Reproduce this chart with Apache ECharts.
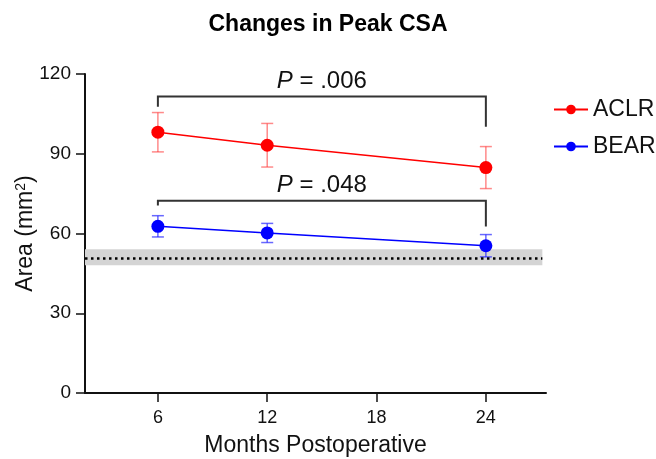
<!DOCTYPE html>
<html>
<head>
<meta charset="utf-8">
<script src="https://cdn.jsdelivr.net/npm/echarts@6/dist/echarts.min.js"></script>
<style>
  html, body { margin: 0; padding: 0; background: #fff; }
  #chart { width: 656px; height: 459px; }
</style>
</head>
<body>
<div id="chart"></div>
<script>
// data
const months = [6, 12, 24];
const xTicks = [6, 12, 18, 24];
const aclrMean = [98.1, 93.2, 84.8];
const aclrErr = [7.4, 8.2, 7.9];
const bearMean = [62.7, 60.2, 55.4];
const bearErr = [4.0, 3.6, 4.2];

// reference band (healthy) and its mean
const bandLow = 48.1;
const bandHigh = 54.1;
const bandMean = 50.7;

// significance brackets: [xLeft, xRight, yTop, yLeftEnd, yRightEnd]
const brackets = [
  [6, 24, 111.5, 107.7, 100.2],
  [6, 24, 72.3, 70.5, 62.6]
];
const pLabels = ['.006', '.048'];

const RED = '#ff0000';
const BLUE = '#0000ff';
const FONT = 'Liberation Sans, Arial, Helvetica, sans-serif';

const chart = echarts.init(document.getElementById('chart'));

function pairs(xs, ys) {
  return xs.map((x, i) => [x, ys[i]]);
}

function errorBarSeries(name, means, errs, color) {
  return {
    type: 'custom',
    name: name + ' err',
    z: 3,
    silent: true,
    data: months.map((m, i) => [m, means[i] - errs[i], means[i] + errs[i]]),
    renderItem(params, api) {
      const lo = api.coord([api.value(0), api.value(1)]);
      const hi = api.coord([api.value(0), api.value(2)]);
      const hw = 6;
      const style = { stroke: color, lineWidth: 1.5, fill: null };
      return {
        type: 'group',
        children: [
          { type: 'line', shape: { x1: lo[0], y1: lo[1], x2: hi[0], y2: hi[1] }, style },
          { type: 'line', shape: { x1: lo[0] - hw, y1: lo[1], x2: lo[0] + hw, y2: lo[1] }, style },
          { type: 'line', shape: { x1: hi[0] - hw, y1: hi[1], x2: hi[0] + hw, y2: hi[1] }, style }
        ]
      };
    }
  };
}

const option = {
  animation: false,
  backgroundColor: '#fff',
  textStyle: { fontFamily: FONT },
  title: {
    text: 'Changes in Peak CSA',
    left: 'center',
    top: 8,
    textStyle: { fontFamily: FONT, fontSize: 23, fontWeight: 'bold', color: '#000' }
  },
  legend: {
    orient: 'vertical',
    left: 548,
    top: 93,
    itemWidth: 34,
    itemHeight: 12,
    itemGap: 14,
    data: ['ACLR', 'BEAR'],
    textStyle: { fontFamily: FONT, fontSize: 23, color: '#111' }
  },
  grid: { left: 85, right: 110, top: 74, bottom: 66, outerBoundsMode: 'none' },
  xAxis: {
    type: 'value',
    min: 2,
    max: 27.3,
    name: 'Months Postoperative',
    nameLocation: 'middle',
    nameGap: 41,
    nameTextStyle: { fontFamily: FONT, fontSize: 23, color: '#111' },
    splitLine: { show: false },
    axisLine: { show: true, lineStyle: { color: '#111', width: 2 } },
    axisTick: { show: true, length: 9, customValues: xTicks, lineStyle: { color: '#111', width: 1.5 } },
    axisLabel: { customValues: xTicks, fontSize: 18, color: '#111', margin: 16, fontFamily: FONT }
  },
  yAxis: {
    type: 'value',
    min: 0,
    max: 120,
    interval: 30,
    name: 'Area (mm{sup|2})',
    nameLocation: 'middle',
    nameMoveOverlap: false,
    nameGap: 48,
    nameTextStyle: {
      fontFamily: FONT, fontSize: 23, color: '#111',
      rich: { sup: { fontSize: 14, verticalAlign: 'top', lineHeight: 14, color: '#111', fontFamily: FONT } }
    },
    splitLine: { show: false },
    axisLine: { show: true, lineStyle: { color: '#111', width: 2 } },
    axisTick: { show: true, length: 9, lineStyle: { color: '#111', width: 1.5 } },
    axisLabel: { fontSize: 19, color: '#111', margin: 14, fontFamily: FONT }
  },
  series: [
    {
      type: 'line',
      name: 'BAND',
      data: [],
      silent: true,
      z: 1,
      markArea: {
        silent: true,
        itemStyle: { color: '#d4d4d4' },
        data: [[{ xAxis: 2, yAxis: bandLow }, { xAxis: 27.1, yAxis: bandHigh }]]
      },
      markLine: {
        silent: true,
        symbol: 'none',
        label: { show: false },
        lineStyle: { color: '#000', type: [2.5, 3.5], width: 2.5 },
        data: [[{ coord: [2, bandMean] }, { coord: [27.1, bandMean] }]]
      }
    },
    errorBarSeries('ACLR', aclrMean, aclrErr, 'rgba(255,60,60,0.6)'),
    errorBarSeries('BEAR', bearMean, bearErr, 'rgba(40,40,255,0.7)'),
    {
      type: 'line',
      name: 'ACLR',
      z: 4,
      data: pairs(months, aclrMean),
      symbol: 'circle',
      symbolSize: 13,
      itemStyle: { color: RED },
      lineStyle: { color: RED, width: 1.5 }
    },
    {
      type: 'line',
      name: 'BEAR',
      z: 4,
      data: pairs(months, bearMean),
      symbol: 'circle',
      symbolSize: 13,
      itemStyle: { color: BLUE },
      lineStyle: { color: BLUE, width: 1.5 }
    },
    {
      type: 'custom',
      name: 'brackets',
      z: 5,
      silent: true,
      data: brackets,
      renderItem(params, api) {
        const tl = api.coord([api.value(0), api.value(2)]);
        const tr = api.coord([api.value(1), api.value(2)]);
        const bl = api.coord([api.value(0), api.value(3)]);
        const br = api.coord([api.value(1), api.value(4)]);
        return {
          type: 'group',
          children: [
            {
              type: 'polyline',
              shape: { points: [bl, tl, tr, br] },
              style: { stroke: '#333', lineWidth: 2, fill: null }
            },
            {
              type: 'text',
              x: (tl[0] + tr[0]) / 2,
              y: tl[1] - 3,
              style: {
                text: '{i|P} = ' + pLabels[params.dataIndex],
                fontFamily: FONT,
                fontSize: 24,
                fill: '#111',
                align: 'center',
                verticalAlign: 'bottom',
                rich: { i: { fontStyle: 'italic', fontSize: 24, fontFamily: FONT, fill: '#111' } }
              }
            }
          ]
        };
      }
    }
  ]
};

chart.setOption(option);
</script>
</body>
</html>
